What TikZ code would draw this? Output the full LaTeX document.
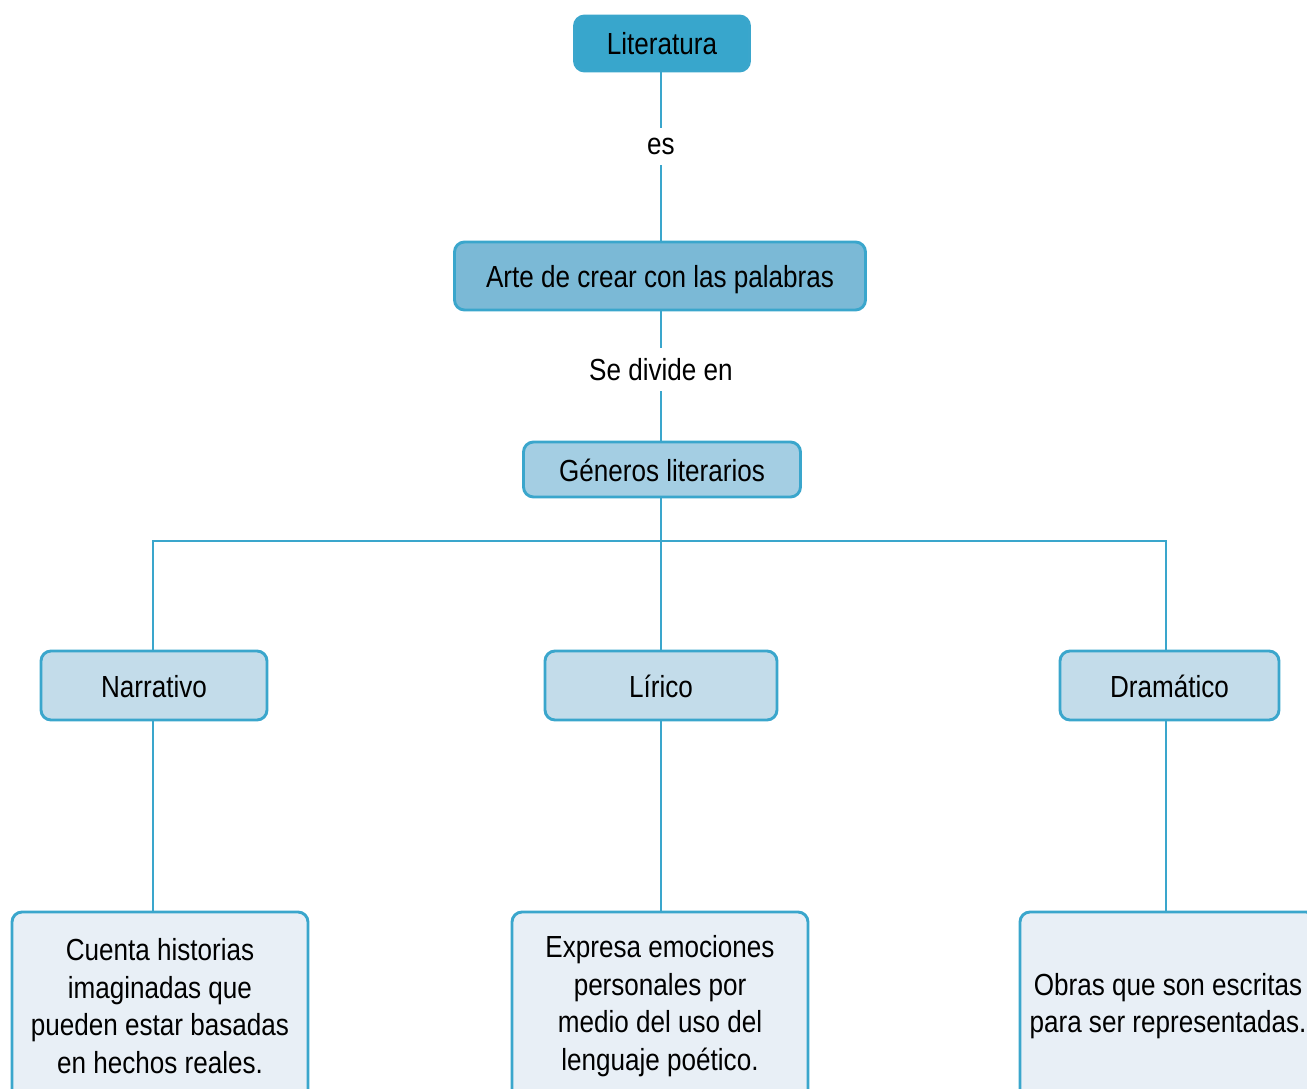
\documentclass[tikz,border=0pt]{standalone}
\usepackage{fontspec}
\setmainfont{Liberation Sans}[FakeStretch=0.855]
\definecolor{lineblue}{HTML}{3AA6CC}
\definecolor{fillA}{HTML}{38A6CC}
\definecolor{fillB}{HTML}{7BB9D6}
\definecolor{fillC}{HTML}{A4CEE3}
\definecolor{fillD}{HTML}{C3DCEA}
\definecolor{fillE}{HTML}{E8EFF6}
\tikzset{
  concept/.style={draw=lineblue, line width=2.9pt, rounded corners=10pt, align=center,
    font=\fontsize{30.5}{37.5}\selectfont, text=black, inner sep=0pt},
  oneline/.style={text height=23pt, text depth=0pt},
  conn/.style={draw=lineblue, line width=2.9pt},
  lbl/.style={fill=white, font=\fontsize{30.5}{37.5}\selectfont, inner xsep=4pt, inner ysep=10pt}
}
\begin{document}
\begin{tikzpicture}[x=1pt,y=-1pt]
\useasboundingbox (0,0) rectangle (1307,1089);
\clip (0,0) rectangle (1307,1089);
\node[concept, oneline, fill=fillA, minimum width=175pt, minimum height=55pt] (lit) at (662,43.5) {Literatura};
\node[concept, oneline, fill=fillB, minimum width=411pt, minimum height=68pt] (arte) at (660,276) {Arte de crear con las palabras};
\node[concept, oneline, fill=fillC, minimum width=277pt, minimum height=55pt] (gen) at (662,469.5) {Géneros literarios};
\node[concept, oneline, fill=fillD, minimum width=226pt, minimum height=69pt] (nar) at (154,685.5) {Narrativo};
\node[concept, oneline, fill=fillD, minimum width=232pt, minimum height=69pt] (lir) at (661,685.5) {Lírico};
\node[concept, oneline, fill=fillD, minimum width=219pt, minimum height=69pt] (dra) at (1169.5,685.5) {Dramático};
\node[concept, fill=fillE, minimum width=296pt, minimum height=188pt] (narT) at (160,1006)
  {Cuenta historias\\imaginadas que\\pueden estar basadas\\en hechos reales.};
\node[concept, fill=fillE, minimum width=296pt, minimum height=188pt] (lirT) at (660,1006)
  {Expresa emociones\\personales por\\medio del uso del\\lenguaje poético.};
\node[concept, fill=fillE, minimum width=296pt, minimum height=188pt] (draT) at (1168,1006)
  {Obras que son escritas\\para ser representadas.};
\coordinate (bar) at (662,541);
\draw[conn] (lit.south -| 661,0) -- node[lbl, pos=0.44] {es} (arte.north -| 661,0);
\draw[conn] (arte.south -| 661,0) -- node[lbl, pos=0.45] {Se divide en} (gen.north -| 661,0);
\draw[conn] (gen.south -| 661,0) -- (lir.north -| 661,0);
\draw[conn] (nar.north -| 153,0) |- (bar) -| (dra.north -| 1166,0);
\draw[conn] (nar.south -| 153,0) -- (narT.north -| 153,0);
\draw[conn] (lir.south -| 661,0) -- (lirT.north -| 661,0);
\draw[conn] (dra.south -| 1166,0) -- (draT.north -| 1166,0);
\end{tikzpicture}
\end{document}
